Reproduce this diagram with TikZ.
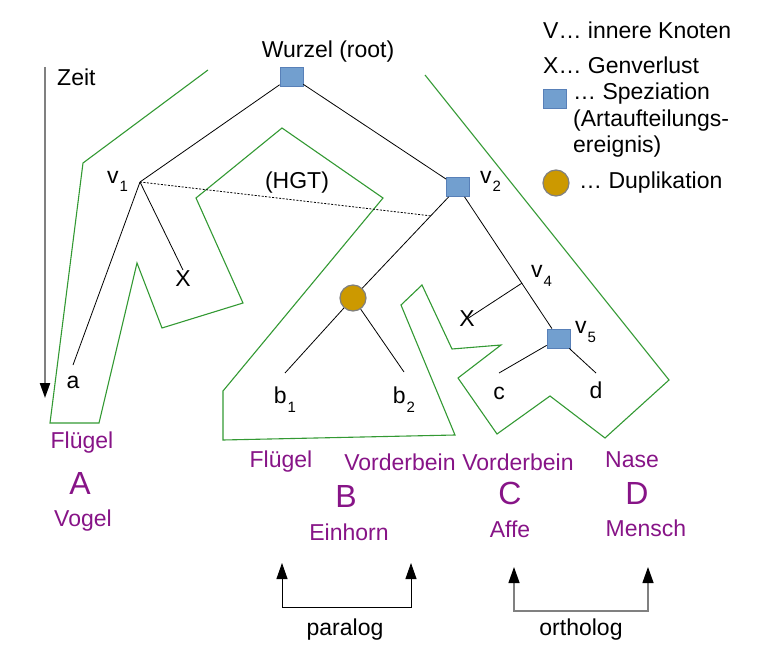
\documentclass[tikz,border=0pt]{standalone}
\usepackage{fontspec}
\setmainfont{Liberation Sans}
\usetikzlibrary{arrows.meta,calc}

\definecolor{specblue}{RGB}{114,159,207}
\definecolor{specedge}{RGB}{88,128,184}
\definecolor{dupgold}{RGB}{204,153,0}
\definecolor{genegreen}{RGB}{51,153,51}
\definecolor{traitpurple}{RGB}{135,20,135}

\newcommand{\subidx}[1]{\kern1pt\raisebox{-9pt}{\fontsize{15}{15}\selectfont #1}}

\begin{document}
\begin{tikzpicture}[x=1pt, y=-1pt,
  every node/.style={font=\fontsize{23}{27}\selectfont, inner sep=0pt},
  spec/.style={rectangle, draw=specedge, fill=specblue, line width=0.8pt, minimum width=23pt, minimum height=19pt},
  dup/.style={circle, draw=gray, fill=dupgold, line width=1.2pt, minimum size=26pt},
  leaf/.style={anchor=north, inner ysep=#1},
  branch/.style={line width=0.8pt},
  trait/.style={text=traitpurple},
  species/.style={text=traitpurple, font=\fontsize{32}{36}\selectfont},
  homarrow/.style={line width=0.9pt, {Triangle[length=16pt,width=11pt,color=black]}-{Triangle[length=16pt,width=11pt,color=black]}}]

\useasboundingbox (0,0) rectangle (777,666);

\draw[genegreen, line width=1.1pt] (208,70) -- (83,163) -- (50,423) -- (99,423) -- (137,263)
  -- (162,328) -- (243,303) -- (196,198) -- (282,128) -- (383,198) -- (223,391) -- (223,440)
  -- (455,435) -- (401,305) -- (422,285) -- (452,349) -- (501,345) -- (458,378) -- (497,434)
  -- (550,396) -- (605,438) -- (669,380) -- (425,75);

\coordinate (ztop) at (45,67);
\coordinate (zbot) at (45,398);
\draw[line width=2.2pt, gray, -{Triangle[length=15pt,width=10pt,color=black]}] (ztop) -- (zbot);
\node[anchor=west] (zeit) at (57,77) {Zeit};

\node[spec] (root) at (291.5,76.5) {};
\node (rootlab) at (328,52) {Wurzel (root)};
\coordinate (v1) at (140,182);
\node[spec] (v2) at (458,187) {};
\node[spec] (v5) at (558.5,338.5) {};
\coordinate (v4) at ($(v2)!0.635!(v5)$);
\node[dup] (dup) at (353,298) {};
\coordinate (hgt) at ($(v2)!0.26!(dup)$);

\node[anchor=base west] (v1lab) at (107,183) {v\subidx{1}};
\node[anchor=base west] (v2lab) at (480,183) {v\subidx{2}};
\node[anchor=base west] (v4lab) at (531,277) {v\subidx{4}};
\node[anchor=base west] (v5lab) at (575,333) {v\subidx{5}};
\node (hgtlab) at (297,183) {(HGT)};

\node[leaf=11pt] (a) at (73,365) {a};
\node[leaf=0pt] (x1) at (183,270) {X};
\node[leaf=14pt] (b1) at (285,373) {b\subidx{1}};
\node[leaf=15pt] (b2) at (404,372) {b\subidx{2}};
\node (x2) at (467,319) {X};
\node[leaf=14pt] (c) at (499,373) {c};
\node[leaf=9pt] (d) at (596,373) {d};

\draw[branch] (root) -- (v1);
\draw[branch] (root) -- (v2);
\draw[branch] (v1) -- (a.north);
\draw[branch] (v1) -- (x1.north);
\draw[branch, dash pattern=on 2pt off 1.5pt] (v1) -- (hgt);
\draw[branch] (v2) -- (dup);
\draw[branch] (v2) -- (v5);
\draw[branch] (v4) -- (x2.center);
\draw[branch] (dup) -- (b1.north);
\draw[branch] (dup) -- (b2.north);
\draw[branch] (v5) -- (c.north);
\draw[branch] (v5) -- (d.north);

\node[anchor=west] (legv) at (543,30) {V… innere Knoten};
\node[anchor=west] (legx) at (543,65) {X… Genverlust};
\node[spec] (legspec) at (554.5,98.5) {};
\node[anchor=north west, align=left, font=\fontsize{23}{26.5}\selectfont] (legspectxt) at (573,83)
  {… Speziation\\(Artaufteilungs-\\ereignis)};
\node[dup] (legdup) at (556,183) {};
\node[anchor=west] (legduptxt) at (579,183) {… Duplikation};

\node[trait] (flA) at (82,443) {Flügel};
\node[species] (spA) at (80,483) {A};
\node[trait] (vogel) at (83,521) {Vogel};

\node[trait] (flB) at (281,462) {Flügel};
\node[trait] (vbB) at (400,462) {Vorderbein};
\node[species] (spB) at (346,496) {B};
\node[trait] (einhorn) at (349,532) {Einhorn};

\node[trait] (vbC) at (518,462) {Vorderbein};
\node[species] (spC) at (510,493) {C};
\node[trait] (affe) at (510,529) {Affe};

\node[trait] (naseD) at (632,460) {Nase};
\node[species] (spD) at (637,493) {D};
\node[trait] (mensch) at (646,528) {Mensch};

\coordinate (parL) at (282,563);
\coordinate (parR) at (411,563);
\draw[homarrow] (parL) -- ++(0,44) -| (parR);
\node (paralog) at (345,630) {paralog};

\coordinate (ortL) at (514,567);
\coordinate (ortR) at (648,567);
\draw[homarrow, gray, line width=1.3pt] (ortL) -- ++(0,44) -| (ortR);
\node (ortholog) at (581,630) {ortholog};

\end{tikzpicture}
\end{document}
